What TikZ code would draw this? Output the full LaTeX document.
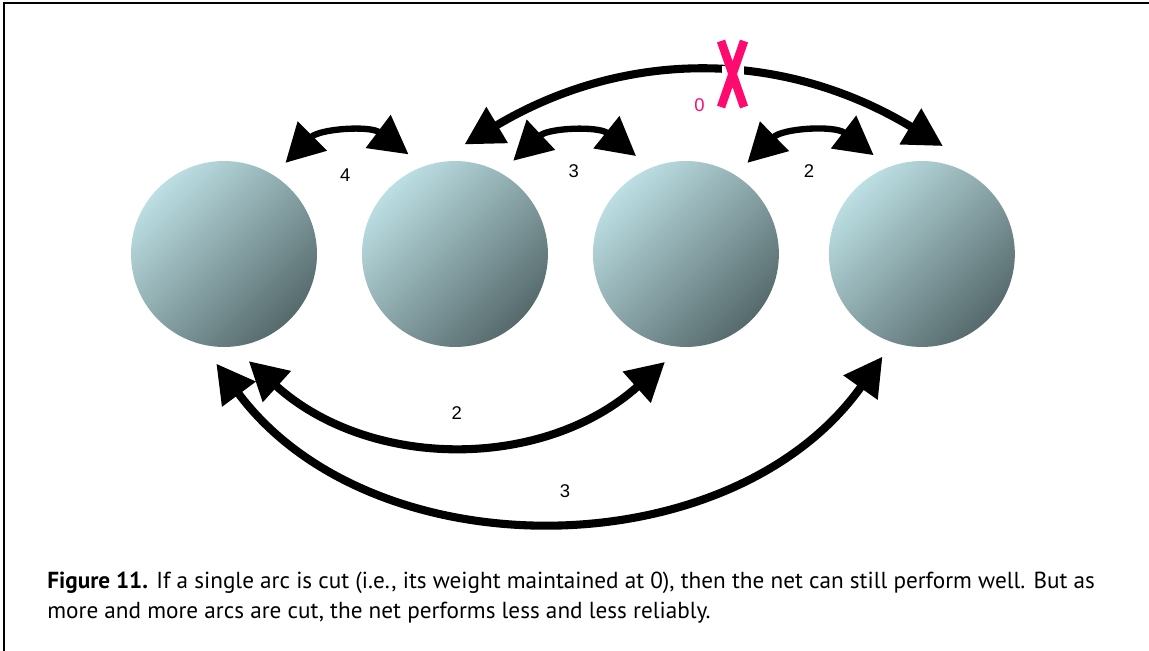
\documentclass[tikz,border=0pt]{standalone}
\usepackage{fontspec}
\setmainfont{PT Sans}
\newfontfamily\numfont{Liberation Sans}
\usepackage{tikz}
\usetikzlibrary{arrows.meta, positioning}

\definecolor{ballhi}{HTML}{BCDFE3}
\definecolor{balllo}{HTML}{566A6C}
\definecolor{cutred}{HTML}{FF0A6E}

\tikzset{
  unit/.style={circle, minimum size=3.72cm, inner sep=0pt, outer sep=0.34cm,
    top color=ballhi, bottom color=balllo, shading angle=45},
  link/.style={line width=4.6pt,
    {Triangle[length=0.76cm,width=0.8cm]}-{Triangle[length=0.76cm,width=0.8cm]}},
  shortlink/.style={link, line width=3.6pt},
  num/.style={font=\numfont\fontsize{10.5}{12}\selectfont, inner sep=0pt},
}

\begin{document}
\begin{tikzpicture}[x=0.02cm, y=0.02cm, node distance=4.62cm, on grid]
\useasboundingbox (0,0) rectangle (1149,651);
\draw[line width=1.5pt] (4,0) -- (4,648) -- (1149,648);

\node[unit] (c1) at (224,397) {};
\node[unit, right=of c1] (c2) {};
\node[unit, right=of c2] (c3) {};
\node[unit, right=4.72cm of c3] (c4) {};

% neighbours
\draw[shortlink] (c1.56) to[bend left=41] node[num, below=0.62cm] {4} (c2.115);
\draw[shortlink] (c2.58) to[bend left=41] node[num, below=0.54cm] {3} (c3.117);
\draw[shortlink] (c3.56) to[bend left=41] node[num, below=0.54cm] {2} (c4.116);

% the arc that is cut
\draw[link] (c2.85) to[bend left=31] coordinate[pos=0.56] (cut) (c4.79);
\fill[white] ([shift={(-11,-8)}]cut) rectangle ([shift={(11,8)}]cut);
\draw[cutred, line width=0.17cm] ([shift={(-11.5,33)}]cut) -- ([shift={(11.5,-33)}]cut)
  ([shift={(11.5,33)}]cut) -- ([shift={(-11.5,-33)}]cut);
\node[num, text=cutred] (w0) at ([shift={(-33,-31)}]cut) {0};

% long arcs underneath
\draw[link] (c1.-77) to[bend right=42] node[num, above=0.40cm] {2} (c3.-101);
\draw[link] (c1.-94) to[bend right=54] node[num, above=0.34cm, xshift=0.28cm] {3} (c4.-111);

\node[anchor=north west, align=left, inner sep=0pt, font=\fontsize{13.2}{17}\selectfont] (caption) at (47,79)
  {\textbf{Figure 11.} If a single arc is cut (i.e., its weight maintained at 0), then the net can still perform well. But as\\
   more and more arcs are cut, the net performs less and less reliably.};
\end{tikzpicture}
\end{document}
